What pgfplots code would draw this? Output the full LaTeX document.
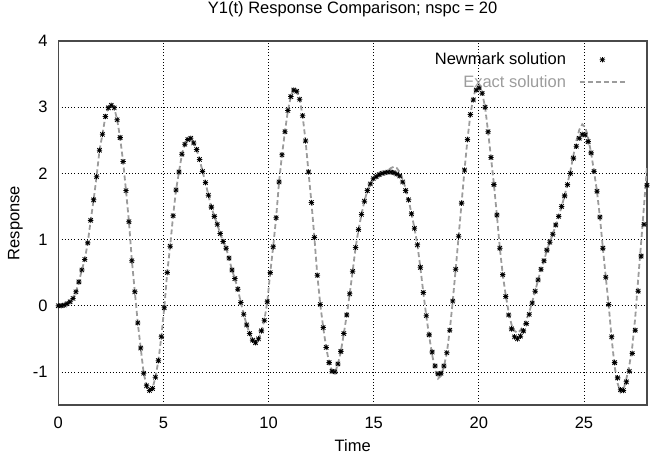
\documentclass[border=0pt]{standalone}
\usepackage{fontspec}
\setmainfont{Liberation Sans}
\usepackage{pgfplots}
\usepackage{pgfplotstable}
\pgfplotsset{compat=1.18}
\definecolor{exactgray}{HTML}{9C9C9C}
\definecolor{framegray}{HTML}{4A4A4A}

\pgfdeclareplotmark{gpstar}{%
  \pgfpathmoveto{\pgfqpoint{-\pgfplotmarksize}{0pt}}\pgfpathlineto{\pgfqpoint{\pgfplotmarksize}{0pt}}%
  \pgfpathmoveto{\pgfqpoint{0pt}{-\pgfplotmarksize}}\pgfpathlineto{\pgfqpoint{0pt}{\pgfplotmarksize}}%
  \pgfpathmoveto{\pgfqpoint{-0.8\pgfplotmarksize}{-0.8\pgfplotmarksize}}\pgfpathlineto{\pgfqpoint{0.8\pgfplotmarksize}{0.8\pgfplotmarksize}}%
  \pgfpathmoveto{\pgfqpoint{-0.8\pgfplotmarksize}{0.8\pgfplotmarksize}}\pgfpathlineto{\pgfqpoint{0.8\pgfplotmarksize}{-0.8\pgfplotmarksize}}%
  \pgfusepathqstroke}

\pgfplotsset{
  exactleg/.style={legend image code/.code={\draw[##1] (0pt,0pt) -- (45pt,0pt);}},
  nmleg/.style={legend image code/.code={\draw[##1] plot coordinates {(22.5pt,0pt)};}},
}

\pgfplotstableread{
t y
0.00 0.00
0.14 0.00
0.28 0.01
0.42 0.03
0.56 0.06
0.70 0.11
0.84 0.21
0.98 0.36
1.12 0.54
1.26 0.70
1.40 0.95
1.54 1.29
1.68 1.60
1.82 1.95
1.96 2.35
2.10 2.59
2.24 2.86
2.38 2.99
2.52 3.03
2.66 2.99
2.80 2.81
2.94 2.54
3.08 2.18
3.22 1.74
3.36 1.27
3.50 0.68
3.64 0.21
3.78 -0.26
3.92 -0.64
4.06 -1.02
4.20 -1.21
4.34 -1.28
4.48 -1.25
4.62 -1.08
4.76 -0.83
4.90 -0.47
5.04 -0.03
5.18 0.50
5.32 0.90
5.46 1.36
5.60 1.75
5.74 2.02
5.88 2.29
6.02 2.44
6.16 2.51
6.30 2.53
6.44 2.46
6.58 2.36
6.72 2.21
6.86 2.03
7.00 1.86
7.14 1.67
7.28 1.49
7.42 1.35
7.56 1.23
7.70 1.09
7.84 0.97
7.98 0.87
8.12 0.72
8.26 0.54
8.40 0.41
8.54 0.25
8.68 0.05
8.82 -0.13
8.96 -0.29
9.10 -0.42
9.24 -0.52
9.38 -0.56
9.52 -0.50
9.66 -0.38
9.80 -0.22
9.94 0.06
10.08 0.50
10.22 0.89
10.36 1.33
10.50 1.87
10.64 2.28
10.78 2.63
10.92 2.95
11.06 3.16
11.20 3.26
11.34 3.24
11.48 3.12
11.62 2.87
11.76 2.49
11.90 2.02
12.04 1.56
12.18 1.03
12.32 0.46
12.46 0.02
12.60 -0.33
12.74 -0.63
12.88 -0.86
13.02 -0.99
13.16 -1.00
13.30 -0.88
13.44 -0.69
13.58 -0.42
13.72 -0.14
13.86 0.18
14.00 0.52
14.14 0.88
14.28 1.15
14.42 1.38
14.56 1.58
14.70 1.74
14.84 1.84
14.98 1.92
15.12 1.95
15.26 1.98
15.40 2.00
15.54 2.01
15.68 2.02
15.82 2.02
15.96 2.01
16.10 1.99
16.24 1.96
16.38 1.87
16.52 1.74
16.66 1.60
16.80 1.39
16.94 1.17
17.08 0.92
17.22 0.58
17.36 0.20
17.50 -0.15
17.64 -0.44
17.78 -0.70
17.92 -0.91
18.06 -1.03
18.20 -1.02
18.34 -0.91
18.48 -0.71
18.62 -0.37
18.76 0.07
18.90 0.55
19.04 1.05
19.18 1.55
19.32 2.05
19.46 2.51
19.60 2.89
19.74 3.11
19.88 3.26
20.02 3.29
20.16 3.21
20.30 3.00
20.44 2.63
20.58 2.24
20.72 1.83
20.86 1.37
21.00 0.87
21.14 0.47
21.28 0.14
21.42 -0.14
21.56 -0.35
21.70 -0.47
21.84 -0.50
21.98 -0.46
22.12 -0.38
22.26 -0.27
22.40 -0.13
22.54 0.04
22.68 0.22
22.82 0.39
22.96 0.55
23.10 0.68
23.24 0.84
23.38 0.96
23.52 1.08
23.66 1.22
23.80 1.35
23.94 1.50
24.08 1.66
24.22 1.83
24.36 2.00
24.50 2.23
24.64 2.41
24.78 2.53
24.92 2.59
25.06 2.58
25.20 2.48
25.34 2.31
25.48 2.03
25.62 1.73
25.76 1.34
25.90 0.87
26.04 0.43
26.18 0.02
26.32 -0.47
26.46 -0.86
26.60 -1.09
26.74 -1.27
26.88 -1.28
27.02 -1.15
27.16 -0.99
27.30 -0.72
27.44 -0.37
27.58 0.22
27.72 0.75
27.86 1.23
28.00 1.82
}\newmark

\pgfplotstableread{
t y
0.00 0.00
0.14 0.00
0.28 0.01
0.42 0.03
0.56 0.06
0.70 0.11
0.84 0.21
0.98 0.36
1.12 0.54
1.26 0.70
1.40 0.95
1.54 1.29
1.68 1.60
1.82 1.95
1.96 2.35
2.10 2.59
2.24 2.86
2.38 2.99
2.52 3.03
2.66 2.99
2.80 2.81
2.94 2.54
3.08 2.18
3.22 1.74
3.36 1.27
3.50 0.68
3.64 0.21
3.78 -0.26
3.92 -0.64
4.06 -1.02
4.20 -1.21
4.34 -1.28
4.48 -1.25
4.62 -1.08
4.76 -0.83
4.90 -0.47
5.04 -0.03
5.18 0.50
5.32 0.90
5.46 1.36
5.60 1.75
5.74 2.02
5.88 2.29
6.02 2.44
6.16 2.51
6.30 2.53
6.44 2.46
6.58 2.36
6.72 2.21
6.86 2.03
7.00 1.86
7.14 1.67
7.28 1.49
7.42 1.35
7.56 1.23
7.70 1.09
7.84 0.97
7.98 0.87
8.12 0.72
8.26 0.54
8.40 0.41
8.54 0.25
8.68 0.05
8.82 -0.13
8.96 -0.29
9.10 -0.42
9.24 -0.52
9.38 -0.56
9.52 -0.50
9.66 -0.38
9.80 -0.22
9.94 0.06
10.08 0.50
10.22 0.89
10.36 1.33
10.50 1.87
10.64 2.28
10.78 2.63
10.92 2.95
11.06 3.16
11.20 3.27
11.34 3.25
11.48 3.12
11.62 2.87
11.76 2.49
11.90 2.02
12.04 1.56
12.18 1.03
12.32 0.46
12.46 0.02
12.60 -0.33
12.74 -0.63
12.88 -0.86
13.02 -0.99
13.16 -1.01
13.30 -0.88
13.44 -0.69
13.58 -0.42
13.72 -0.14
13.86 0.18
14.00 0.52
14.14 0.88
14.28 1.15
14.42 1.38
14.56 1.58
14.70 1.74
14.84 1.84
14.98 1.92
15.12 1.95
15.26 1.98
15.40 2.00
15.54 2.02
15.68 2.05
15.82 2.08
15.96 2.10
16.10 2.08
16.24 2.02
16.38 1.91
16.52 1.77
16.66 1.60
16.80 1.39
16.94 1.17
17.08 0.92
17.22 0.58
17.36 0.20
17.50 -0.15
17.64 -0.46
17.78 -0.74
17.92 -0.96
18.06 -1.10
18.20 -1.06
18.34 -0.92
18.48 -0.71
18.62 -0.37
18.76 0.07
18.90 0.55
19.04 1.05
19.18 1.55
19.32 2.05
19.46 2.51
19.60 2.89
19.74 3.15
19.88 3.30
20.02 3.32
20.16 3.21
20.30 3.00
20.44 2.63
20.58 2.24
20.72 1.83
20.86 1.37
21.00 0.87
21.14 0.47
21.28 0.16
21.42 -0.10
21.56 -0.29
21.70 -0.38
21.84 -0.41
21.98 -0.37
22.12 -0.30
22.26 -0.21
22.40 -0.10
22.54 0.06
22.68 0.22
22.82 0.39
22.96 0.55
23.10 0.68
23.24 0.84
23.38 0.96
23.52 1.08
23.66 1.22
23.80 1.35
23.94 1.50
24.08 1.66
24.22 1.85
24.36 2.04
24.50 2.27
24.64 2.49
24.78 2.66
24.92 2.74
25.06 2.70
25.20 2.54
25.34 2.31
25.48 2.03
25.62 1.73
25.76 1.34
25.90 0.87
26.04 0.43
26.18 0.00
26.32 -0.50
26.46 -0.92
26.60 -1.17
26.74 -1.31
26.88 -1.27
27.02 -1.10
27.16 -0.90
27.30 -0.62
27.44 -0.18
27.58 0.40
27.72 0.95
27.86 1.52
28.00 2.10
}\exact

\begin{document}
\begin{tikzpicture}[font=\fontsize{16.5}{19.8}\selectfont]
\useasboundingbox (0,0) rectangle (652pt,458pt);
\begin{axis}[
  at={(58.3pt,53pt)}, anchor=south west,
  scale only axis, width=588.7pt, height=364pt,
  xmin=0, xmax=28, ymin=-1.5, ymax=4,
  xtick={0,5,10,15,20,25}, xticklabels={0,5,10,15,20,25},
  ytick={-1,0,1,2,3,4}, yticklabels={-1,0,1,2,3,4},
  grid=major,
  major grid style={black, line width=0.7pt, dash pattern=on 0.8pt off 2.4pt},
  axis line style={framegray, line width=1.3pt},
  tick style={draw=none},
  tick label style={font=\fontsize{16.5}{19.8}\selectfont},
  xticklabel style={anchor=base, inner sep=0pt, yshift=-23pt},
  yticklabel style={anchor=east, inner sep=0pt, xshift=-10.5pt},
  title={Y1(t) Response Comparison; nspc = 20},
  title style={at={(0.5,1)}, anchor=base, yshift=22pt, inner sep=0pt, font=\fontsize{16.5}{19.8}\selectfont},
  xlabel={Time},
  every axis x label/.style={at={(0.5,0)}, anchor=base, yshift=-46pt, inner sep=0pt, font=\fontsize{16.5}{19.8}\selectfont},
  ylabel={Response},
  every axis y label/.style={at={(0,0.5)}, rotate=90, anchor=base, yshift=38.8pt, inner sep=0pt, font=\fontsize{16.5}{19.8}\selectfont},
  legend style={at={(0.964,0.967)}, anchor=north east, draw=none, fill=none,
    inner sep=0pt, outer sep=0pt, row sep=9pt, column sep=13pt,
    nodes={inner sep=0pt}, font=\fontsize{16.5}{19.8}\selectfont},
  legend plot pos=right,
  legend cell align=right,
  reverse legend,
]
\addplot[exactgray, line width=1.8pt, dash pattern=on 5pt off 3pt, exactleg]
  table[x=t, y=y] {\exact};
\addlegendentry{\textcolor{exactgray}{Exact solution}}
\addplot[black, only marks, mark=gpstar, mark size=2.7pt, mark options={line width=0.8pt}, nmleg]
  table[x=t, y=y] {\newmark};
\addlegendentry{Newmark solution}
\end{axis}
\end{tikzpicture}
\end{document}
